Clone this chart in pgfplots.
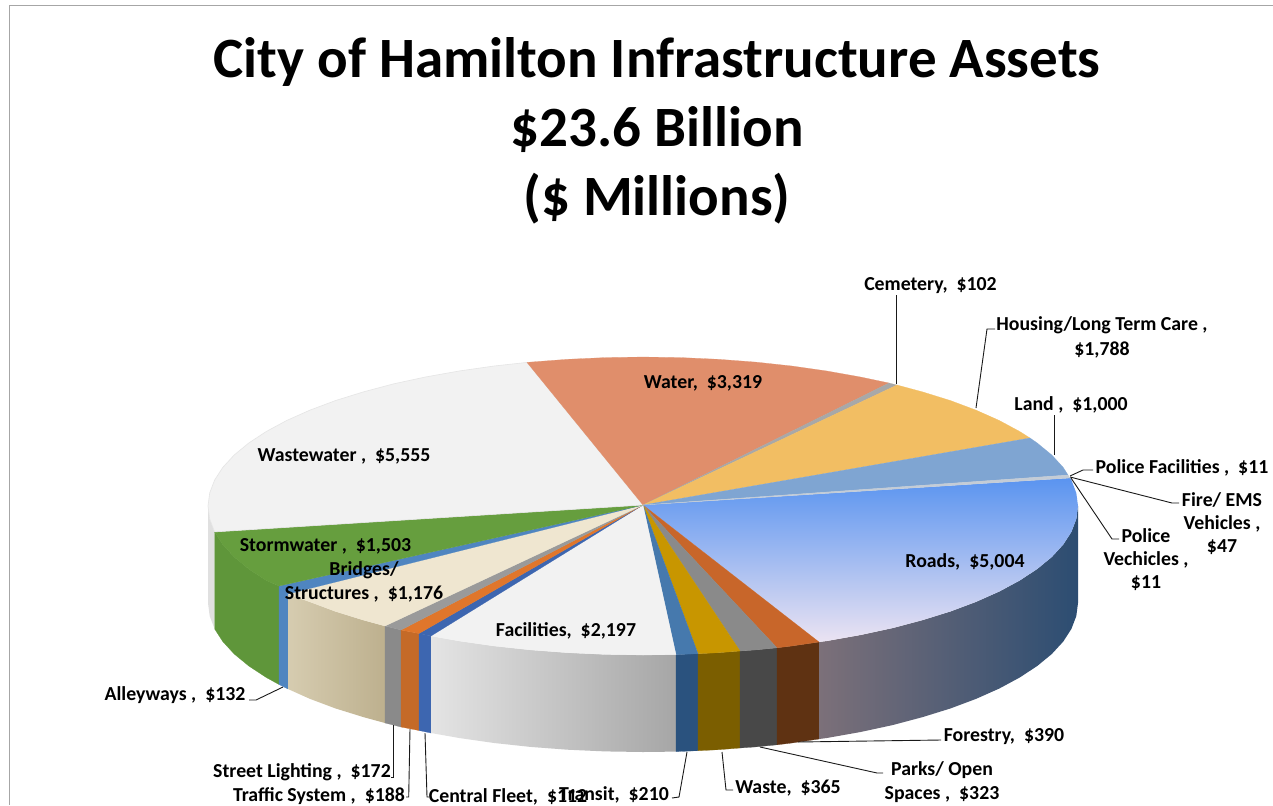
\documentclass[border=0pt]{standalone}
\usepackage{fontspec}
\setmainfont{Carlito}
\usepackage{pgfplots}
\pgfplotsset{compat=1.18}

\definecolor{cWater}{HTML}{E08E6B}
\definecolor{cCem}{HTML}{A8A8A8}
\definecolor{cHousing}{HTML}{F2BE63}
\definecolor{cLand}{HTML}{7FA5D2}
\definecolor{cThin}{HTML}{C4CCD6}
\definecolor{cWaste}{HTML}{F2F2F2}
\definecolor{cStorm}{HTML}{669E3E}
\definecolor{cStormS}{HTML}{5F963A}
\definecolor{cAlley}{HTML}{4F85C0}
\definecolor{cBridge}{HTML}{EFE6D0}
\definecolor{cBridgeL}{HTML}{D6CCB0}
\definecolor{cBridgeR}{HTML}{BDB08E}
\definecolor{cStreet}{HTML}{9A9A9A}
\definecolor{cStreetS}{HTML}{8A8A8A}
\definecolor{cTraffic}{HTML}{E0762B}
\definecolor{cTrafficS}{HTML}{C46A28}
\definecolor{cFleet}{HTML}{3D66B0}
\definecolor{cFacL}{HTML}{E4E4E4}
\definecolor{cFacR}{HTML}{A6A6A6}
\definecolor{cTransit}{HTML}{4679AD}
\definecolor{cTransitS}{HTML}{2A527E}
\definecolor{cWasteP}{HTML}{C89600}
\definecolor{cWastePS}{HTML}{7B5E00}
\definecolor{cParks}{HTML}{8A8A8A}
\definecolor{cParksS}{HTML}{484848}
\definecolor{cForest}{HTML}{C8662A}
\definecolor{cForestS}{HTML}{5F3212}
\definecolor{cRoadT}{HTML}{5A94F0}
\definecolor{cRoadM}{HTML}{7FB2E8}
\definecolor{cRoadB}{HTML}{EBE3F2}
\definecolor{cRoadSL}{HTML}{7C7079}
\definecolor{cRoadSM}{HTML}{4F545E}
\definecolor{cRoadSR}{HTML}{2C4D72}
\definecolor{frameline}{HTML}{A6A6A6}

\newcommand{\gap}{\hspace{4.5pt}}
\tikzset{
  lab/.style={font=\fontsize{19.8}{22}\selectfont\bfseries, align=center, inner sep=0pt, yshift=-1.5pt},
  ttl/.style={font=\fontsize{57}{66}\selectfont\bfseries, inner sep=0pt, yshift=-2pt},
}
\pgfplotsset{lead/.style={black!90, line width=0.9pt}}

\begin{document}
\begin{tikzpicture}
\begin{axis}[
  scale only axis,
  width=1273pt,
  height=805pt,
  xmin=0, xmax=1273,
  ymin=0, ymax=805,
  y dir=reverse,
  hide axis,
  clip mode=individual,
]
% page and frame
\addplot[white, fill=white] coordinates {(0,0) (1273,0) (1273,805) (0,805)} --cycle;
\addplot[frameline, line width=1pt] coordinates {(1273,5) (9,5) (9,805)};

% side walls
\addplot[draw=none, fill=black!12] coordinates {(208,506) (209.7,519) (214.6,531.9) (214.6,628.9) (209.7,616) (208,603)} --cycle;
\addplot[cStormS, fill=cStormS, line width=0.2pt] coordinates {(214.6,531.9) (222.8,544.6) (234.2,557) (248.8,569) (266.3,580.5) (279,586) (279,684.5) (266.3,677.5) (248.8,666) (234.2,654) (222.8,641.6) (214.6,628.9)} --cycle;
\addplot[cAlley, fill=cAlley, line width=0.2pt] coordinates {(279,586) (288,594) (288,689) (279,684.5)} --cycle;
\addplot[draw=none, left color=cBridgeL, right color=cBridgeR] coordinates {(288,594) (309.8,601.8) (335.4,611.4) (363.4,620.1) (385,626) (385,723) (363.4,717.1) (335.4,708.4) (309.8,698.8) (288,689)} --cycle;
\addplot[cStreetS, fill=cStreetS, line width=0.2pt] coordinates {(385,626) (393.5,628.1) (401,630) (401,727) (393.5,725.1) (385,723)} --cycle;
\addplot[cTrafficS, fill=cTrafficS, line width=0.2pt] coordinates {(401,630) (419,633.5) (419,730.5) (401,727)} --cycle;
\addplot[cFleet, fill=cFleet, line width=0.2pt] coordinates {(419,633.5) (431,636) (431,733) (419,730.5)} --cycle;
\addplot[draw=none, left color=cFacL, right color=cFacR] coordinates {(431,636) (459.2,641) (494.2,646) (530.4,649.9) (567.5,652.7) (605.1,654.4) (643,655) (676,654.6) (676,751.6) (643,752) (605.1,751.4) (567.5,749.7) (530.4,746.9) (494.2,743) (459.2,738) (431,733)} --cycle;
\addplot[cTransitS, fill=cTransitS, line width=0.2pt] coordinates {(676,654.6) (698,653.7) (698,750.7) (676,751.6)} --cycle;
\addplot[cWastePS, fill=cWastePS, line width=0.2pt] coordinates {(698,653.7) (718.5,652.7) (740,651) (740,748) (718.5,749.7) (698,750.7)} --cycle;
\addplot[cParksS, fill=cParksS, line width=0.2pt] coordinates {(740,651) (755.6,649.9) (777,647.8) (777,744.8) (755.6,746.9) (740,748)} --cycle;
\addplot[cForestS, fill=cForestS, line width=0.2pt] coordinates {(777,647.8) (791.8,646) (819,642) (819,739) (791.8,743) (777,744.8)} --cycle;
\addplot[draw=none, left color=cRoadSL, middle color=cRoadSM, right color=cRoadSR] coordinates {(819,642) (826.8,641) (860.5,635) (892.5,628.1) (922.6,620.1) (950.6,611.4) (976.2,601.8) (999.3,591.5) (1019.7,580.5) (1037.2,569) (1051.8,557) (1063.2,544.6) (1071.4,531.9) (1076.3,519) (1078,506) (1078,603) (1076.3,616) (1071.4,628.9) (1063.2,641.6) (1051.8,654) (1037.2,666) (1019.7,677.5) (999.3,688.5) (976.2,698.8) (950.6,708.4) (922.6,717.1) (892.5,725.1) (860.5,732) (826.8,738) (819,739)} --cycle;

% top of the pie
\addplot[draw=none, top color=cRoadT, middle color=cRoadM, bottom color=cRoadB] coordinates {(643,505) (1070,478) (1071.4,480.1) (1076.3,493) (1078,506) (1076.3,519) (1071.4,531.9) (1063.2,544.6) (1051.8,557) (1037.2,569) (1019.7,580.5) (999.3,591.5) (976.2,601.8) (950.6,611.4) (922.6,620.1) (892.5,628.1) (860.5,635) (826.8,641) (819,642)} --cycle;
\addplot[cForest, fill=cForest, line width=0.2pt] coordinates {(643,505) (819,642) (791.8,646) (777,647.8)} --cycle;
\addplot[cParks, fill=cParks, line width=0.2pt] coordinates {(643,505) (777,647.8) (755.6,649.9) (740,651)} --cycle;
\addplot[cWasteP, fill=cWasteP, line width=0.2pt] coordinates {(643,505) (740,651) (718.5,652.7) (698,653.7)} --cycle;
\addplot[cTransit, fill=cTransit, line width=0.2pt] coordinates {(643,505) (698,653.7) (676,654.6)} --cycle;
\addplot[cWaste, fill=cWaste, line width=0.2pt] coordinates {(643,505) (676,654.6) (643,655) (605.1,654.4) (567.5,652.7) (530.4,649.9) (494.2,646) (459.2,641) (431,636)} --cycle;
\addplot[cFleet, fill=cFleet, line width=0.2pt] coordinates {(643,505) (431,636) (419,633.5)} --cycle;
\addplot[cTraffic, fill=cTraffic, line width=0.2pt] coordinates {(643,505) (419,633.5) (401,630)} --cycle;
\addplot[cStreet, fill=cStreet, line width=0.2pt] coordinates {(643,505) (401,630) (393.5,628.1) (385,626)} --cycle;
\addplot[cBridge, fill=cBridge, line width=0.2pt] coordinates {(643,505) (385,626) (363.4,620.1) (335.4,611.4) (309.8,601.8) (288,594)} --cycle;
\addplot[cAlley, fill=cAlley, line width=0.2pt] coordinates {(643,505) (288,594) (279,586)} --cycle;
\addplot[cStorm, fill=cStorm, line width=0.2pt] coordinates {(643,505) (279,586) (266.3,580.5) (248.8,569) (234.2,557) (222.8,544.6) (214.6,531.9)} --cycle;
\addplot[black!10, fill=cWaste, line width=0.6pt] coordinates {(643,505) (214.6,531.9) (209.7,519) (208,506) (209.7,493) (214.6,480.1) (222.8,467.4) (234.2,455) (248.8,443) (266.3,431.5) (286.7,420.5) (309.8,410.2) (335.4,400.6) (363.4,391.9) (393.5,383.9) (425.5,377) (459.2,371) (494.2,366) (527,362.4)} --cycle;
\addplot[cWater, fill=cWater, line width=0.2pt] coordinates {(643,505) (527,362.4) (530.4,362.1) (567.5,359.3) (605.1,357.6) (643,357) (680.9,357.6) (718.5,359.3) (755.6,362.1) (791.8,366) (826.8,371) (860.5,377) (889,383)} --cycle;
\addplot[cCem, fill=cCem, line width=0.2pt] coordinates {(643,505) (889,383) (892.5,383.9) (897,385)} --cycle;
\addplot[cHousing, fill=cHousing, line width=0.2pt] coordinates {(643,505) (897,385) (922.6,391.9) (950.6,400.6) (976.2,410.2) (999.3,420.5) (1019.7,431.5) (1030,438)} --cycle;
\addplot[cLand, fill=cLand, line width=0.2pt] coordinates {(643,505) (1030,438) (1037.2,443) (1051.8,455) (1063.2,467.4) (1068,475)} --cycle;
\addplot[cThin, fill=cThin, line width=0.2pt] coordinates {(643,505) (1068,475) (1070,478)} --cycle;

% leader lines
\addplot[lead] coordinates {(896,295) (896,384)};
\addplot[lead] coordinates {(995,329) (987,329) (976,408)};
\addplot[lead] coordinates {(1054,415) (1054,455)};
\addplot[lead] coordinates {(1070,476) (1083,470) (1093,470)};
\addplot[lead] coordinates {(1070,477) (1172,503) (1179,503)};
\addplot[lead] coordinates {(1071,478) (1112,539) (1119,539)};
\addplot[lead] coordinates {(249,700) (256,700) (283,687)};
\addplot[lead] coordinates {(393,725) (393,777) (391,777)};
\addplot[lead] coordinates {(410,729) (408.7,797) (406,797)};
\addplot[lead] coordinates {(425,733) (427,797) (429,797)};
\addplot[lead] coordinates {(687,752) (679,797) (672,798)};
\addplot[lead] coordinates {(722,752) (726,790) (733,790)};
\addplot[lead] coordinates {(760,747) (877,773) (883,773)};
\addplot[lead] coordinates {(798,742) (941,740)};

% title
\node[ttl] at (axis cs:657,60) {City of Hamilton Infrastructure Assets};
\node[ttl] at (axis cs:657,128) {\$23.6 Billion};
\node[ttl] at (axis cs:657,197) {(\$ Millions)};

% data labels
\node[lab] at (axis cs:930.5,284) {Cemetery,\gap{} \$102};
\node[lab] at (axis cs:1102,324) {Housing/Long Term Care ,};
\node[lab] at (axis cs:1102,348) {\$1,788};
\node[lab] at (axis cs:1071,403) {Land ,\gap{} \$1,000};
\node[lab] at (axis cs:1182,466) {Police Facilities ,\gap{} \$11};
\node[lab] at (axis cs:1222,498) {Fire/ EMS};
\node[lab] at (axis cs:1222,522) {Vehicles ,};
\node[lab] at (axis cs:1222,546) {\$47};
\node[lab] at (axis cs:1146,534) {Police};
\node[lab] at (axis cs:1146,558) {Vechicles ,};
\node[lab] at (axis cs:1146,582) {\$11};
\node[lab] at (axis cs:965,560) {Roads,\gap{} \$5,004};
\node[lab] at (axis cs:703,382) {Water,\gap{} \$3,319};
\node[lab] at (axis cs:344,455) {Wastewater ,\gap{} \$5,555};
\node[lab] at (axis cs:325.5,545) {Stormwater ,\gap{} \$1,503};
\node[lab] at (axis cs:364,569) {Bridges/};
\node[lab] at (axis cs:364,593) {Structures ,\gap{} \$1,176};
\node[lab] at (axis cs:566,629) {Facilities,\gap{} \$2,197};
\node[lab] at (axis cs:175,694) {Alleyways ,\gap{} \$132};
\node[lab] at (axis cs:302,771) {Street Lighting ,\gap{} \$172};
\node[lab] at (axis cs:319,795) {Traffic System ,\gap{} \$188};
\node[lab] at (axis cs:508,795) {Central Fleet,\gap{} \$112};
\node[lab] at (axis cs:614,793) {Transit,\gap{} \$210};
\node[lab] at (axis cs:788,787) {Waste,\gap{} \$365};
\node[lab] at (axis cs:942,769) {Parks/ Open};
\node[lab] at (axis cs:942,793) {Spaces ,\gap{} \$323};
\node[lab] at (axis cs:1004,735) {Forestry,\gap{} \$390};
\end{axis}
\end{tikzpicture}
\end{document}
